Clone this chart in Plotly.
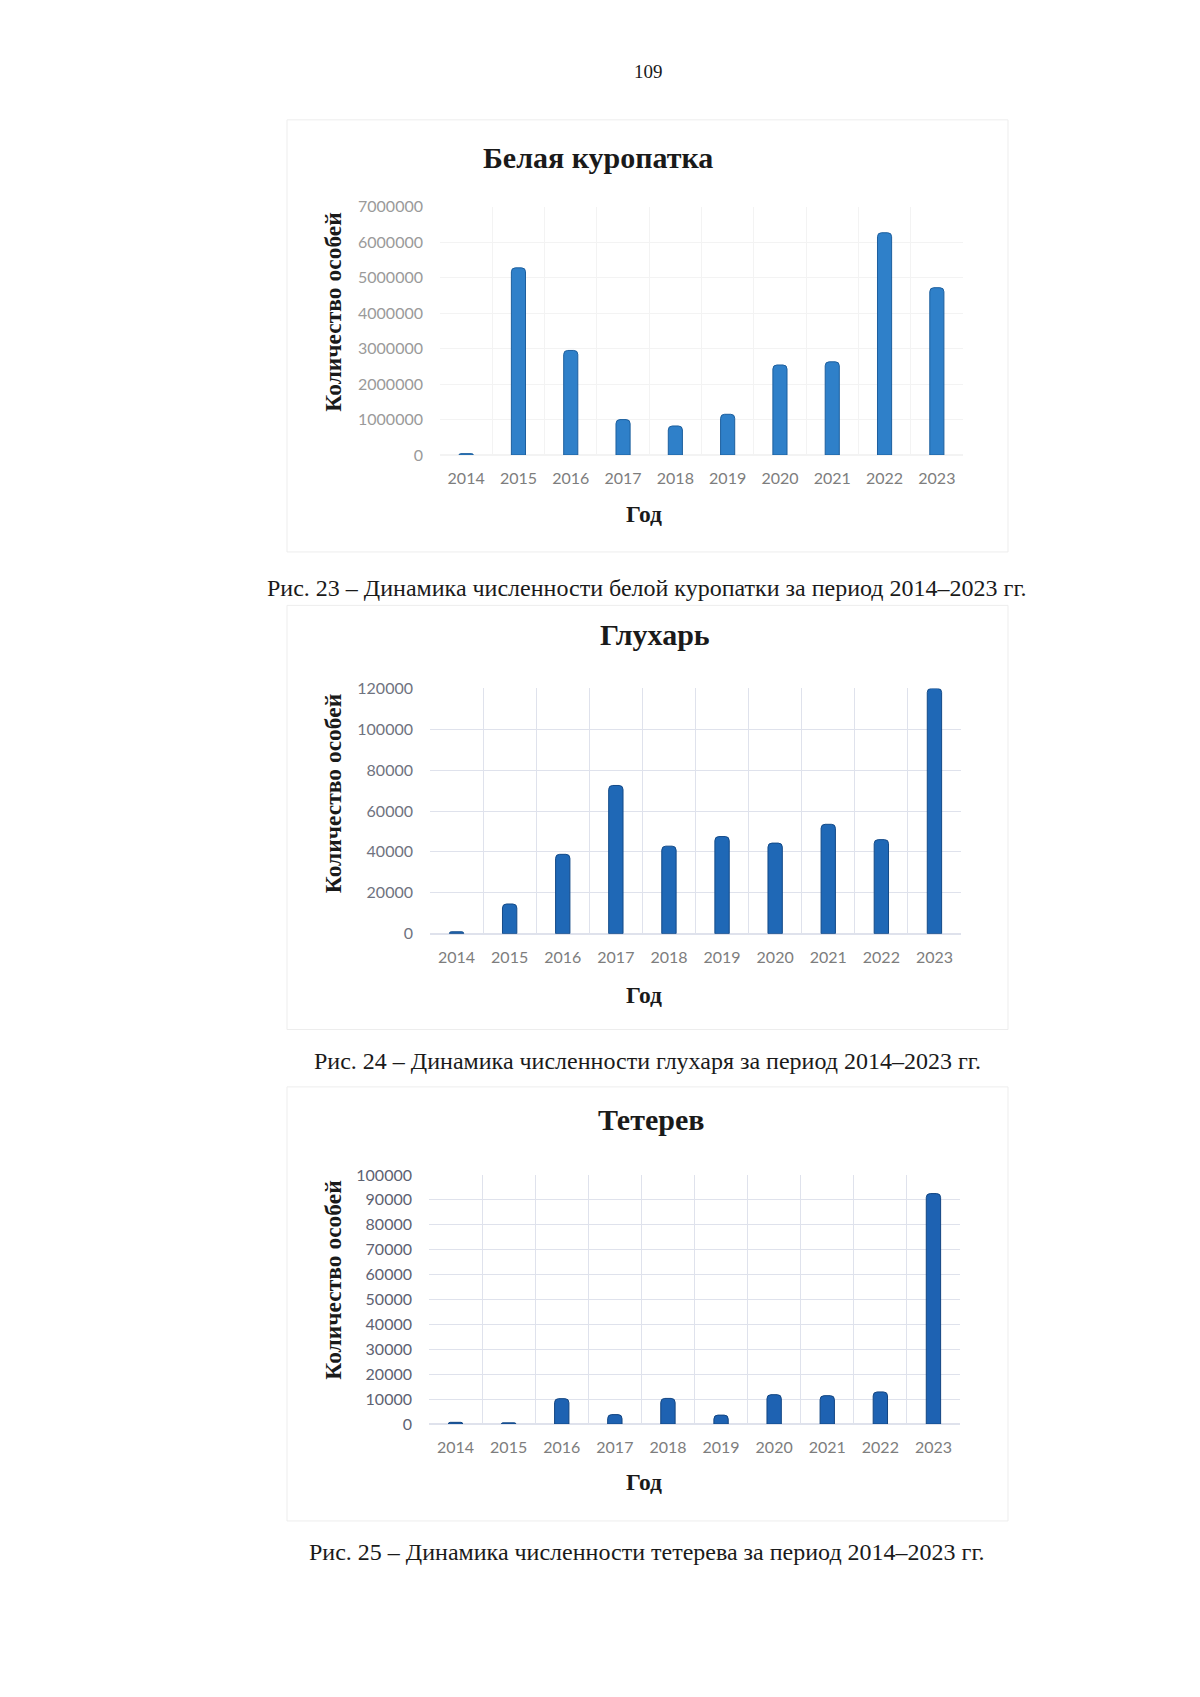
import plotly.graph_objects as go

W, H = 1200, 1697

years = ["2014", "2015", "2016", "2017", "2018", "2019", "2020", "2021", "2022", "2023"]
ptarmigan = [40000, 5280000, 2950000, 1000000, 820000, 1150000, 2540000, 2630000, 6270000, 4720000]
capercaillie = [900, 14500, 38800, 72500, 42800, 47500, 44300, 53500, 46000, 120000]
blackgrouse = [700, 500, 10200, 3800, 10300, 3600, 11800, 11400, 12900, 92500]

titles = ["Белая куропатка", "Глухарь", "Тетерев"]
captions = [
    "Рис. 23 – Динамика численности белой куропатки за период 2014–2023 гг.",
    "Рис. 24 – Динамика численности глухаря за период 2014–2023 гг.",
    "Рис. 25 – Динамика численности тетерева за период 2014–2023 гг.",
]
y_title = "Количество особей"
x_title = "Год"
page_number = "109"

y_ticks_1 = [0, 1000000, 2000000, 3000000, 4000000, 5000000, 6000000, 7000000]
y_ticks_2 = [0, 20000, 40000, 60000, 80000, 100000, 120000]
y_ticks_3 = [0, 10000, 20000, 30000, 40000, 50000, 60000, 70000, 80000, 90000, 100000]


def xd(a, b):
    return [a / W, b / W]


def yd(top, bottom):
    return [1 - bottom / H, 1 - top / H]


def px(x):
    return x / W


def py(y):
    return 1 - y / H


panels = [
    dict(vals=ptarmigan, ticks=y_ticks_1, xdom=(432, 955), ytop=191, ybot=442,
         color="#2f80c9", line="#1d5f9e", grid="#f3f3f3", tickcol="#9a9a9a",
         border=(279, 103, 1000, 540), title_x=590, title_y=141, ytitle_y=298,
         xt_y=502, cap_y=576),
    dict(vals=capercaillie, ticks=y_ticks_2, xdom=(422, 953), ytop=678, ybot=926,
         color="#1f68b6", line="#134a88", grid="#dfe2ec", tickcol="#6f7380",
         border=(279, 594, 1000, 1023), title_x=647, title_y=623, ytitle_y=785,
         xt_y=988, cap_y=1055),
    dict(vals=blackgrouse, ticks=y_ticks_3, xdom=(421, 952), ytop=1170, ybot=1422,
         color="#1e62b2", line="#124582", grid="#dfe2ec", tickcol="#5d6272",
         border=(279, 1081, 1000, 1520), title_x=643, title_y=1114, ytitle_y=1277,
         xt_y=1481, cap_y=1551),
]

fig = go.Figure()
annotations = []
shapes = []

for i, p in enumerate(panels):
    n = "" if i == 0 else str(i + 1)
    fig.add_trace(go.Bar(
        x=years, y=p["vals"], xaxis="x" + n, yaxis="y" + n,
        width=0.27,
        marker=dict(color=p["color"], line=dict(color=p["line"], width=1), cornerradius=4),
        showlegend=False,
    ))
    fig.update_layout(**{
        "xaxis" + n: dict(
            domain=xd(*p["xdom"]), anchor="y" + n, type="category",
            tickson="boundaries", showgrid=True, gridcolor=p["grid"], gridwidth=1,
            showline=False, zeroline=False, ticks="",
            tickfont=dict(family="Lato", size=16, color="#7d7d7d"),
            ticklabelstandoff=12, fixedrange=True,
        ),
        "yaxis" + n: dict(
            domain=yd(p["ytop"], p["ybot"]), anchor="x" + n,
            range=[0, p["ticks"][-1]], tickmode="array", tickvals=p["ticks"],
            tickformat="d", showgrid=True, gridcolor=p["grid"], gridwidth=1,
            zeroline=True, zerolinecolor=p["grid"], showline=False, ticks="",
            tickfont=dict(family="Lato", size=16, color=p["tickcol"]),
            ticklabelstandoff=16, fixedrange=True,
        ),
    })
    bx0, by0, bx1, by1 = p["border"]
    shapes.append(dict(type="rect", xref="paper", yref="paper",
                       x0=px(bx0), x1=px(bx1), y0=py(by1), y1=py(by0),
                       line=dict(color="#ededed", width=1), fillcolor="rgba(0,0,0,0)",
                       layer="below"))
    annotations.append(dict(text="<b>%s</b>" % titles[i], xref="paper", yref="paper",
                            x=px(p["title_x"]), y=py(p["title_y"]), showarrow=False,
                            xanchor="center", yanchor="middle",
                            font=dict(family="Liberation Serif", size=30, color="#1a1a1a")))
    annotations.append(dict(text="<b>%s</b>" % y_title, xref="paper", yref="paper",
                            x=px(325), y=py(p["ytitle_y"]), showarrow=False, textangle=-90,
                            xanchor="center", yanchor="middle",
                            font=dict(family="Liberation Serif", size=23.5, color="#1a1a1a")))
    annotations.append(dict(text="<b>%s</b>" % x_title, xref="paper", yref="paper",
                            x=px(636), y=py(p["xt_y"]), showarrow=False,
                            xanchor="center", yanchor="middle",
                            font=dict(family="Liberation Serif", size=23.5, color="#1a1a1a")))
    annotations.append(dict(text=captions[i], xref="paper", yref="paper",
                            x=px(639), y=py(p["cap_y"]), showarrow=False,
                            xanchor="center", yanchor="middle",
                            font=dict(family="Liberation Serif", size=24, color="#1a1a1a")))

annotations.append(dict(text=page_number, xref="paper", yref="paper",
                        x=px(640), y=py(54), showarrow=False,
                        xanchor="center", yanchor="middle",
                        font=dict(family="Liberation Serif", size=19, color="#1a1a1a")))

fig.update_layout(
    width=W, height=H, margin=dict(l=0, r=0, t=0, b=0),
    paper_bgcolor="white", plot_bgcolor="white",
    annotations=annotations, shapes=shapes,
)

fig.write_html("out.html")
